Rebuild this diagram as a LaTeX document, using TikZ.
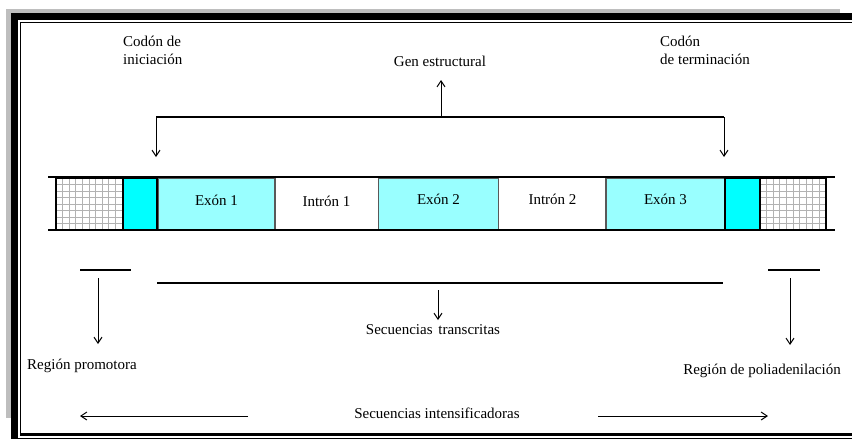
\documentclass[tikz,border=0pt]{standalone}
\usepackage{fontspec}
\setmainfont{Liberation Serif}
\usepackage{xcolor}
\usetikzlibrary{positioning,arrows.meta}

\definecolor{exoncyan}{RGB}{153,255,255}
\definecolor{codoncyan}{RGB}{0,255,255}
\definecolor{framegray}{RGB}{190,190,190}

\tikzset{
  blockbox/.style={minimum height=52, inner sep=0pt, outer sep=0pt},
  exonbox/.style={blockbox, fill=exoncyan, draw=gray!70!black, line width=1.4pt},
  codonbox/.style={blockbox, fill=codoncyan, draw=black, line width=1.2pt},
  intronbox/.style={blockbox},
  gridbox/.style={blockbox, draw=black, line width=1.4pt},
  label/.style={font=\fontsize{15}{18}\selectfont, inner sep=1pt},
  pointer/.style={-{Straight Barb[length=6pt, width=8pt]}, line width=1pt},
  bracket/.style={line width=1.3pt}
}

\begin{document}
\begin{tikzpicture}[x=1pt, y=-1pt]
    \useasboundingbox (0,0) rectangle (852,440);
    % frame
    \fill[framegray] (6,9) rectangle (840,13);
    \fill[framegray] (6,9) rectangle (11,418);
    \fill[black] (11,13) rectangle (852,20);
    \fill[black] (11,13) rectangle (18,439);
    \draw[line width=1.5pt] (852,22.5) -- (20.5,22.5) -- (20.5,433);
    \draw[line width=3pt] (20,434.5) -- (852,434.5);
    \draw[line width=1.3pt] (11,438.6) -- (852,438.6);

    % gene blocks
    \node[intronbox, minimum width=103] (intron1) at (326.5,204) {};
    \node[intronbox, minimum width=107] (intron2) at (552.5,204) {};
    \node[exonbox, minimum width=117] (exon1) at (216.5,204) {};
    \node[exonbox, minimum width=120] (exon2) at (438.5,204) {};
    \node[exonbox, minimum width=119] (exon3) at (665.5,204) {};
    \node[codonbox, minimum width=34] (startcodon) at (140,204) {};
    \node[codonbox, minimum width=35] (stopcodon) at (742.5,204) {};
    \foreach \x in {62.6,69.2,...,120} \draw[gray!60, line width=0.8pt] (\x,178) -- (\x,230);
    \foreach \x in {766.6,773.2,...,823} \draw[gray!60, line width=0.8pt] (\x,178) -- (\x,230);
    \foreach \y in {184.5,191,...,228} {
      \draw[gray!60, line width=0.8pt] (56,\y) -- (123,\y);
      \draw[gray!60, line width=0.8pt] (760,\y) -- (826,\y);
    }
    \node[gridbox, minimum width=67] (promblock) at (89.5,204) {};
    \node[gridbox, minimum width=66] (polyblock) at (793,204) {};
    \draw[line width=2pt] (48,177) -- (835,177);
    \draw[line width=2pt] (48,230) -- (835,230);

    \node[label] at ([yshift=4]exon1) {Exón 1};
    \node[label] at ([yshift=3]intron1) {Intrón 1};
    \node[label] at ([yshift=5]exon2) {Exón 2};
    \node[label] at ([yshift=5]intron2) {Intrón 2};
    \node[label] at ([yshift=5]exon3) {Exón 3};

    % top labels
    \node[label, align=left, anchor=north west] (startlabel) at (122,35) {Codón de\\iniciación};
    \node[label, align=left, anchor=north west] (stoplabel) at (659,35) {Codón\\de terminación};
    \node[label] (genlabel) at (440,61) {Gen estructural};

    % structural gene bracket
    \coordinate (brL) at (156,117);
    \coordinate (brR) at (724,117);
    \coordinate (brM) at (441,117);
    \coordinate (startTip) at (156,157);
    \coordinate (stopTip) at (724,157);
    \coordinate (genTip) at (441,80);
    \draw[bracket] (brL) -- (brR);
    \draw[pointer] (brL) -- (startTip);
    \draw[pointer] (brR) -- (stopTip);
    \draw[pointer] (brM) -- (genTip);

    % lower labels
    \node[label] (promlabel) at (82,366) {Región promotora};
    \node[label] (translabel) at (433,330) {Secuencias\hspace{2pt} transcritas};
    \node[label] (polylabel) at (762,371) {Región de poliadenilación};
    \node[label] (enhlabel) at (437,413) {Secuencias intensificadoras};

    \coordinate (promL) at (80,270);
    \coordinate (promR) at (131,270);
    \coordinate (polyL) at (768,270);
    \coordinate (polyR) at (820,270);
    \coordinate (transL) at (157,283);
    \coordinate (transR) at (723,283);
    \draw[line width=1.1pt] (promL) -- (promR);
    \draw[line width=1.1pt] (polyL) -- (polyR);
    \draw[line width=1.1pt] (transL) -- (transR);
    \coordinate (promTip) at (98,344);
    \coordinate (polyTip) at (790,345);
    \coordinate (transTip) at (438,320);
    \draw[pointer] (98,278) -- (promTip);
    \draw[pointer] (790,278) -- (polyTip);
    \draw[pointer] (438,290) -- (transTip);

    \coordinate (enhLtip) at (80,416);
    \coordinate (enhRtip) at (768,416);
    \draw[pointer] (248,416) -- (enhLtip);
    \draw[pointer] (598,416) -- (enhRtip);
  \end{tikzpicture}
\end{document}
